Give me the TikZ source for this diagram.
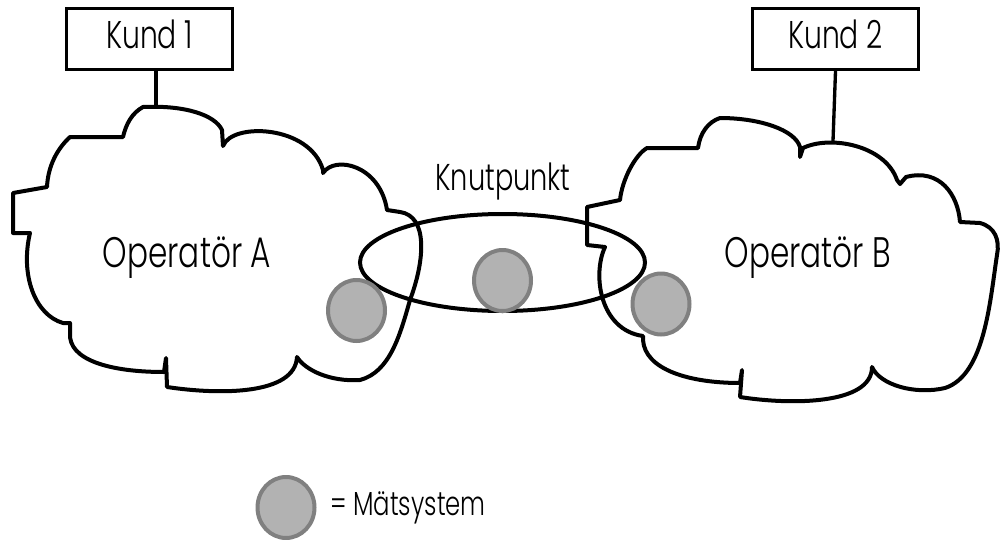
\documentclass[tikz,border=0pt]{standalone}
\usepackage{fontspec}
\setmainfont{Poppins}[UprightFont=* Light,FakeStretch=0.73]
\usetikzlibrary{shapes.geometric}
\tikzstyle{customer}=[rectangle,draw=black,line width=2.5pt,minimum width=124.5pt,minimum height=45.75pt,inner sep=0pt,text height=20pt,text depth=6pt,font=\fontsize{29}{32}\selectfont]
\tikzstyle{cloud}=[draw=black,line width=3pt,line join=round]
\tikzstyle{link}=[draw=black,line width=2.5pt]
\tikzstyle{hub}=[ellipse,draw=black,line width=3pt,minimum width=213.75pt,minimum height=72.75pt,inner sep=0pt]
\tikzstyle{probe}=[ellipse,fill=gray!60,draw=gray,line width=3pt,minimum width=42.75pt,minimum height=45.75pt,inner sep=0pt]
\tikzstyle{netname}=[anchor=base,inner sep=0pt,font=\fontsize{32}{36}\selectfont]
\tikzstyle{caption}=[inner sep=0pt,font=\fontsize{28}{31}\selectfont]

\begin{document}
\begin{tikzpicture}[x=0.75pt,y=-0.75pt]
\useasboundingbox (0,0) rectangle (1003,539);

\draw [cloud] (70,137) -- (123,137) .. controls (126,124) and (132,113) .. (143,107)
  .. controls (185,105) and (215,115) .. (222,130) -- (223,146)
  .. controls (232,122) and (310,125) .. (323,170) -- (323,173)
  .. controls (335,155) and (380,165) .. (387,210) -- (400,212)
  .. controls (428,216) and (425,260) .. (410,300)
  .. controls (400,335) and (390,372) .. (360,380)
  .. controls (330,382) and (305,370) .. (297,357)
  .. controls (295,395) and (220,395) .. (167,387) -- (166,358) -- (164,372)
  .. controls (110,372) and (68,360) .. (70,333) -- (70,323) -- (63,323)
  .. controls (35,315) and (20,275) .. (30,233) -- (13,233) -- (13,193) -- (47,187)
  .. controls (48,165) and (58,148) .. (70,137) -- cycle;
\draw [cloud] (647,148) -- (698,148) .. controls (700,133) and (708,122) .. (720,118)
  .. controls (760,118) and (795,130) .. (800,147) -- (800,157) -- (803,148)
  .. controls (830,135) and (885,145) .. (897,180) -- (900,184) -- (906,177)
  .. controls (940,168) and (958,195) .. (960,222) -- (980,223)
  .. controls (995,227) and (1000,240) .. (997,255)
  .. controls (990,300) and (985,375) .. (945,388)
  .. controls (915,395) and (880,385) .. (872,367)
  .. controls (872,405) and (790,405) .. (740,397) -- (742,370) -- (740,383)
  .. controls (690,383) and (645,370) .. (643,340) -- (643,336)
  .. controls (600,330) and (592,275) .. (605,247) -- (587,245) -- (587,207) -- (620,200)
  .. controls (622,180) and (635,155) .. (647,148) -- cycle;

\coordinate (topA) at (156,107);
\coordinate (topB) at (833,141);
\node (kund1) at (149.5,39) [customer] {Kund 1};
\node (kund2) at (835.5,39) [customer] {Kund 2};
\draw [link] (kund1.south -| topA) -- (topA);
\draw [link] (kund2.south) -- (topB);

\node (opA) at (187,267) [netname] {Operatör A};
\node (opB) at (808,267) [netname] {Operatör B};

\node (hub) at (502.5,262.5) [hub] {};
\node (knut) at (503,190) [caption,anchor=base] {Knutpunkt};

\node (probeA) at (356.5,310.5) [probe] {};
\node (probeM) at (502.5,280.5) [probe] {};
\node (probeB) at (661,304) [probe] {};

\node (probeL) at (286,507.5) [probe] {};
\node (legend) at (330,515) [caption,anchor=base west,font=\fontsize{25}{28}\selectfont] {= Mätsystem};
\end{tikzpicture}
\end{document}
